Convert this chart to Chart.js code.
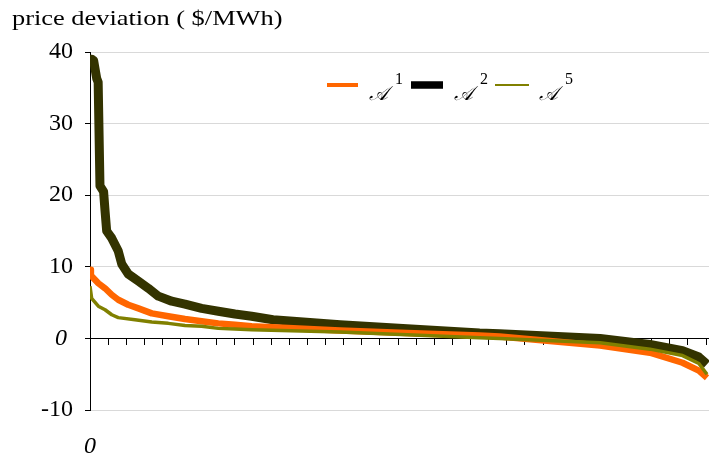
<!DOCTYPE html>
<html>
<head>
<meta charset="utf-8">
<script src="https://cdn.jsdelivr.net/npm/chart.js@4.4.0/dist/chart.umd.min.js"></script>
<style>
  body { margin: 0; background: #fff; }
</style>
</head>
<body>
<canvas id="c" width="709" height="456"></canvas>
<script>
// x is measured in tick intervals along the horizontal axis (0 .. 34)
const xA1 = [0, 0.05, 0.46, 0.83, 1.2, 1.56, 2.11, 2.67, 3.41, 4.32, 5.24, 6.16, 7.08, 8.0, 8.92, 13.8, 17.5, 21.5, 22.6, 28.15, 30.9, 32.7, 33.6, 34.05];
const valA1 = [9.6, 8.8, 7.7, 7.0, 6.1, 5.4, 4.7, 4.2, 3.5, 3.1, 2.7, 2.4, 2.1, 1.9, 1.7, 1.1, 0.75, 0.4, 0.25, -1.0, -2.0, -3.4, -4.5, -5.5];

const xA2 = [0, 0.1, 0.2, 0.37, 0.45, 0.55, 0.75, 0.83, 0.92, 1.2, 1.56, 1.75, 2.11, 2.67, 3.22, 3.77, 4.51, 5.24, 6.16, 7.08, 8.0, 8.92, 10.1, 13.8, 17.5, 21.5, 22.6, 28.15, 30.9, 32.7, 33.6, 34.05];
const valA2 = [38.6, 39.0, 38.8, 36.3, 35.8, 21.3, 20.5, 17.8, 15.0, 14.0, 12.2, 10.4, 9.0, 8.0, 7.0, 5.9, 5.2, 4.8, 4.2, 3.8, 3.4, 3.1, 2.6, 1.9, 1.35, 0.75, 0.65, 0.0, -0.85, -1.7, -2.6, -3.6];

const xA5 = [0, 0.09, 0.46, 0.83, 1.2, 1.56, 2.48, 3.41, 4.32, 5.24, 6.16, 7.08, 8.0, 8.92, 13.8, 17.5, 21.5, 22.6, 28.15, 30.9, 32.7, 33.6, 34.05];
const valA5 = [7.3, 5.6, 4.5, 4.0, 3.3, 2.9, 2.6, 2.3, 2.1, 1.8, 1.7, 1.4, 1.3, 1.2, 0.9, 0.5, 0.1, 0.0, -0.6, -1.5, -2.4, -3.5, -5.0];

const yTicks = [-10, 0, 10, 20, 30, 40];
const seriesNames = ['𝒜', '𝒜', '𝒜'];
const seriesSup = ['1', '2', '5'];

const serif = "'Liberation Serif', 'Times New Roman', serif";

function toPoints(xs, ys) {
  return xs.map((x, i) => ({ x: x, y: ys[i] }));
}

const overlay = {
  id: 'overlay',
  afterDraw(chart) {
    const ctx = chart.ctx;
    ctx.save();
    ctx.fillStyle = '#000';
    ctx.textBaseline = 'alphabetic';
    ctx.textAlign = 'left';
    ctx.save();
    ctx.translate(12, 25);
    ctx.scale(1.2, 1);
    ctx.font = '22px ' + serif;
    ctx.fillText('price deviation ( $/MWh)', 0, 0);
    ctx.restore();

    ctx.textAlign = 'center';
    ctx.font = 'italic 24px ' + serif;
    ctx.fillText('0', chart.scales.x.getPixelForValue(0), 453);

    // legend
    const items = [
      { color: '#FF6600', x: 327, w: 31, h: 4, tx: 369 },
      { color: '#000000', x: 411, w: 32, h: 7.5, tx: 454 },
      { color: '#808000', x: 495, w: 34, h: 2, tx: 539 }
    ];
    ctx.textAlign = 'left';
    items.forEach((it, i) => {
      ctx.fillStyle = it.color;
      ctx.fillRect(it.x, 85 - it.h / 2, it.w, it.h);
      ctx.fillStyle = '#000';
      ctx.font = 'italic 20px ' + serif;
      ctx.fillText(seriesNames[i], it.tx, 100);
      ctx.font = '16px ' + serif;
      ctx.fillText(seriesSup[i], it.tx + 26, 84);
    });
    ctx.restore();
  }
};

new Chart(document.getElementById('c'), {
  type: 'line',
  data: {
    datasets: [
      { label: 'A5', data: toPoints(xA5, valA5), borderColor: '#808000', borderWidth: 3.5, order: 1 },
      { label: 'A1', data: toPoints(xA1, valA1), borderColor: '#FF6600', borderWidth: 6.5, order: 2 },
      { label: 'A2', data: toPoints(xA2, valA2), borderColor: '#333300', borderWidth: 9, order: 3 }
    ]
  },
  options: {
    responsive: false,
    animation: false,
    events: [],
    elements: {
      point: { radius: 0 },
      line: { tension: 0, borderCapStyle: 'butt', borderJoinStyle: 'round' }
    },
    layout: { padding: { top: 52, bottom: 46, left: 0, right: 0 } },
    plugins: {
      legend: { display: false },
      tooltip: { enabled: false },
      title: { display: false }
    },
    scales: {
      x: {
        type: 'linear',
        position: { y: 0 },
        min: 0,
        max: 34.16,
        afterBuildTicks: s => { s.ticks = Array.from({ length: 35 }, (_, i) => ({ value: i })); },
        ticks: { display: false },
        grid: { drawOnChartArea: false, tickLength: 6, color: '#000', lineWidth: 1 },
        border: { color: '#000', width: 1 }
      },
      y: {
        type: 'linear',
        min: -10,
        max: 40,
        afterBuildTicks: s => { s.ticks = yTicks.map(v => ({ value: v })); },
        afterFit: s => { s.width = 90; },
        ticks: {
          color: '#000',
          padding: 12,
          font: c => (c.tick && c.tick.value === 0)
            ? { family: serif, size: 24, style: 'italic' }
            : { family: serif, size: 24 },
          callback: v => (v === 0 ? '0 ' : String(v))
        },
        grid: {
          color: c => (c.tick && c.tick.value === 0) ? 'rgba(0,0,0,0)' : '#d9d9d9',
          tickColor: '#000',
          tickLength: 5,
          lineWidth: 1
        },
        border: { color: '#000', width: 1 }
      }
    }
  },
  plugins: [overlay]
});
</script>
</body>
</html>
